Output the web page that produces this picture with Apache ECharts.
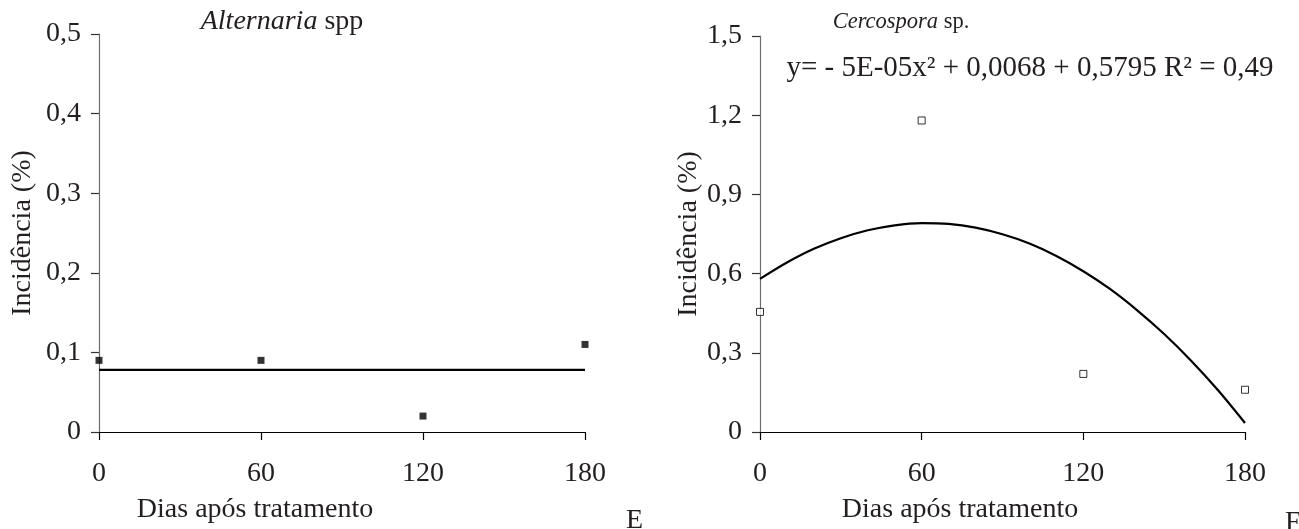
<!DOCTYPE html>
<html>
<head>
<meta charset="utf-8">
<script src="https://cdn.jsdelivr.net/npm/echarts@6/dist/echarts.min.js"></script>
<style>
html,body{margin:0;padding:0;background:#fff;}
#chart{width:1299px;height:529px;}
</style>
</head>
<body>
<div id="chart"></div>
<script>
// ---- data ----
const days = [0, 60, 120, 180];
const alternariaValues = [0.09, 0.09, 0.02, 0.11];
const alternariaTrendDays = [0, 180];
const alternariaTrendValues = [0.078, 0.078];

const cercosporaValues = [0.455, 1.18, 0.22, 0.16];
const cercosporaTrendDays = [0,10,20,30,40,50,60,70,80,90,100,110,120,130,140,150,160,170,180];
const cercosporaTrendValues = [0.58,0.642,0.694,0.734,0.764,0.783,0.791,0.788,0.774,0.749,0.714,0.667,0.609,0.541,0.461,0.371,0.27,0.158,0.034];

const xTicks = [0, 60, 120, 180];
const leftYTicks = [0, 0.1, 0.2, 0.3, 0.4, 0.5];
const rightYTicks = [0, 0.3, 0.6, 0.9, 1.2, 1.5];

const titleLeft = 'Alternaria';
const titleLeftSuffix = ' spp';
const titleRight = 'Cercospora';
const titleRightSuffix = ' sp.';
const equationText = 'y= - 5E-05x\u00B2 + 0,0068 + 0,5795 R\u00B2 = 0,49';
const xName = 'Dias após tratamento';
const yName = 'Incidência (%)';
const panelLetters = ['E', 'F'];

// ---- helpers ----
const pair = (xs, ys) => xs.map((x, i) => [x, ys[i]]);
const FONT = '"Liberation Serif", "Times New Roman", serif';
const TXT = '#231f20';
const fmtY = v => (Math.abs(v) < 1e-9 ? '0' : v.toFixed(1).replace('.', ','));

function xAxisCfg(gi, namePadRight) {
  return {
    type: 'value', gridIndex: gi, min: xTicks[0], max: xTicks[xTicks.length - 1], interval: 60,
    axisLine: { show: true, lineStyle: { color: '#000', width: 1.2 } },
    axisTick: { show: true, inside: false, length: 8, lineStyle: { color: '#000', width: 1.2 } },
    axisLabel: { fontFamily: FONT, fontSize: 28, color: TXT, margin: 28 },
    splitLine: { show: false },
    name: xName, nameLocation: 'middle', nameGap: 64,
    nameTextStyle: { fontFamily: FONT, fontSize: 28, color: TXT, padding: [0, namePadRight, 0, 0] }
  };
}
function yAxisCfg(gi, ticks, gap) {
  return {
    type: 'value', gridIndex: gi, min: ticks[0], max: ticks[ticks.length - 1], interval: ticks[1] - ticks[0],
    axisLine: { show: true, lineStyle: { color: '#6d6d6d', width: 1.2 } },
    axisTick: { show: true, inside: false, length: 8, lineStyle: { color: '#333', width: 1.2 } },
    axisLabel: { fontFamily: FONT, fontSize: 28, color: TXT, margin: 18, padding: [5, 0, 0, 0], formatter: fmtY },
    splitLine: { show: false },
    name: yName, nameLocation: 'middle', nameGap: gap,
    nameTextStyle: { fontFamily: FONT, fontSize: 28, color: TXT }
  };
}

const chart = echarts.init(document.getElementById('chart'), null, { renderer: 'canvas' });
chart.setOption({
  animation: false,
  backgroundColor: '#fff',
  title: [
    { text: '{i|' + titleLeft + '}' + titleLeftSuffix, left: 277, top: 3, textAlign: 'center',
      textStyle: { fontFamily: FONT, fontSize: 28, fontWeight: 'normal', color: TXT,
        rich: { i: { fontFamily: FONT, fontSize: 28, fontStyle: 'italic', color: TXT } } } },
    { text: '{i|' + titleRight + '}' + titleRightSuffix, left: 896, top: 6, textAlign: 'center',
      textStyle: { fontFamily: FONT, fontSize: 22.5, fontWeight: 'normal', color: TXT,
        rich: { i: { fontFamily: FONT, fontSize: 22.5, fontStyle: 'italic', color: TXT } } } },
    { text: equationText, left: 1025, top: 49, textAlign: 'center',
      textStyle: { fontFamily: FONT, fontSize: 29, fontWeight: 'normal', color: TXT } },
    { text: panelLetters[0], left: 626, top: 507, padding: 0,
      textStyle: { fontFamily: FONT, fontSize: 28, fontWeight: 'normal', color: TXT } },
    { text: panelLetters[1], left: 1285, top: 509, padding: 0,
      textStyle: { fontFamily: FONT, fontSize: 28, fontWeight: 'normal', color: TXT } }
  ],
  grid: [
    { left: 99, top: 34, width: 486, height: 401 },
    { left: 760, top: 36, width: 485, height: 399 }
  ],
  xAxis: [xAxisCfg(0, 174), xAxisCfg(1, 85)],
  yAxis: [yAxisCfg(0, leftYTicks, 62), yAxisCfg(1, rightYTicks, 56)],
  series: [
    { name: 'Alternaria trend', type: 'line', xAxisIndex: 0, yAxisIndex: 0,
      data: pair(alternariaTrendDays, alternariaTrendValues), showSymbol: false, symbol: 'none',
      lineStyle: { color: '#000', width: 2.2 }, z: 2 },
    { name: 'Alternaria', type: 'scatter', xAxisIndex: 0, yAxisIndex: 0,
      data: pair(days, alternariaValues), symbol: 'rect', symbolSize: 7,
      itemStyle: { color: '#000' }, z: 3 },
    { name: 'Cercospora trend', type: 'line', xAxisIndex: 1, yAxisIndex: 1,
      data: pair(cercosporaTrendDays, cercosporaTrendValues), showSymbol: false, symbol: 'none',
      smooth: 0.3, lineStyle: { color: '#000', width: 2.2 }, z: 2 },
    { name: 'Cercospora', type: 'scatter', xAxisIndex: 1, yAxisIndex: 1,
      data: pair(days, cercosporaValues), symbol: 'rect', symbolSize: 7,
      itemStyle: { color: '#fff', borderColor: '#000', borderWidth: 1 }, z: 3 }
  ]
});
</script>
</body>
</html>
